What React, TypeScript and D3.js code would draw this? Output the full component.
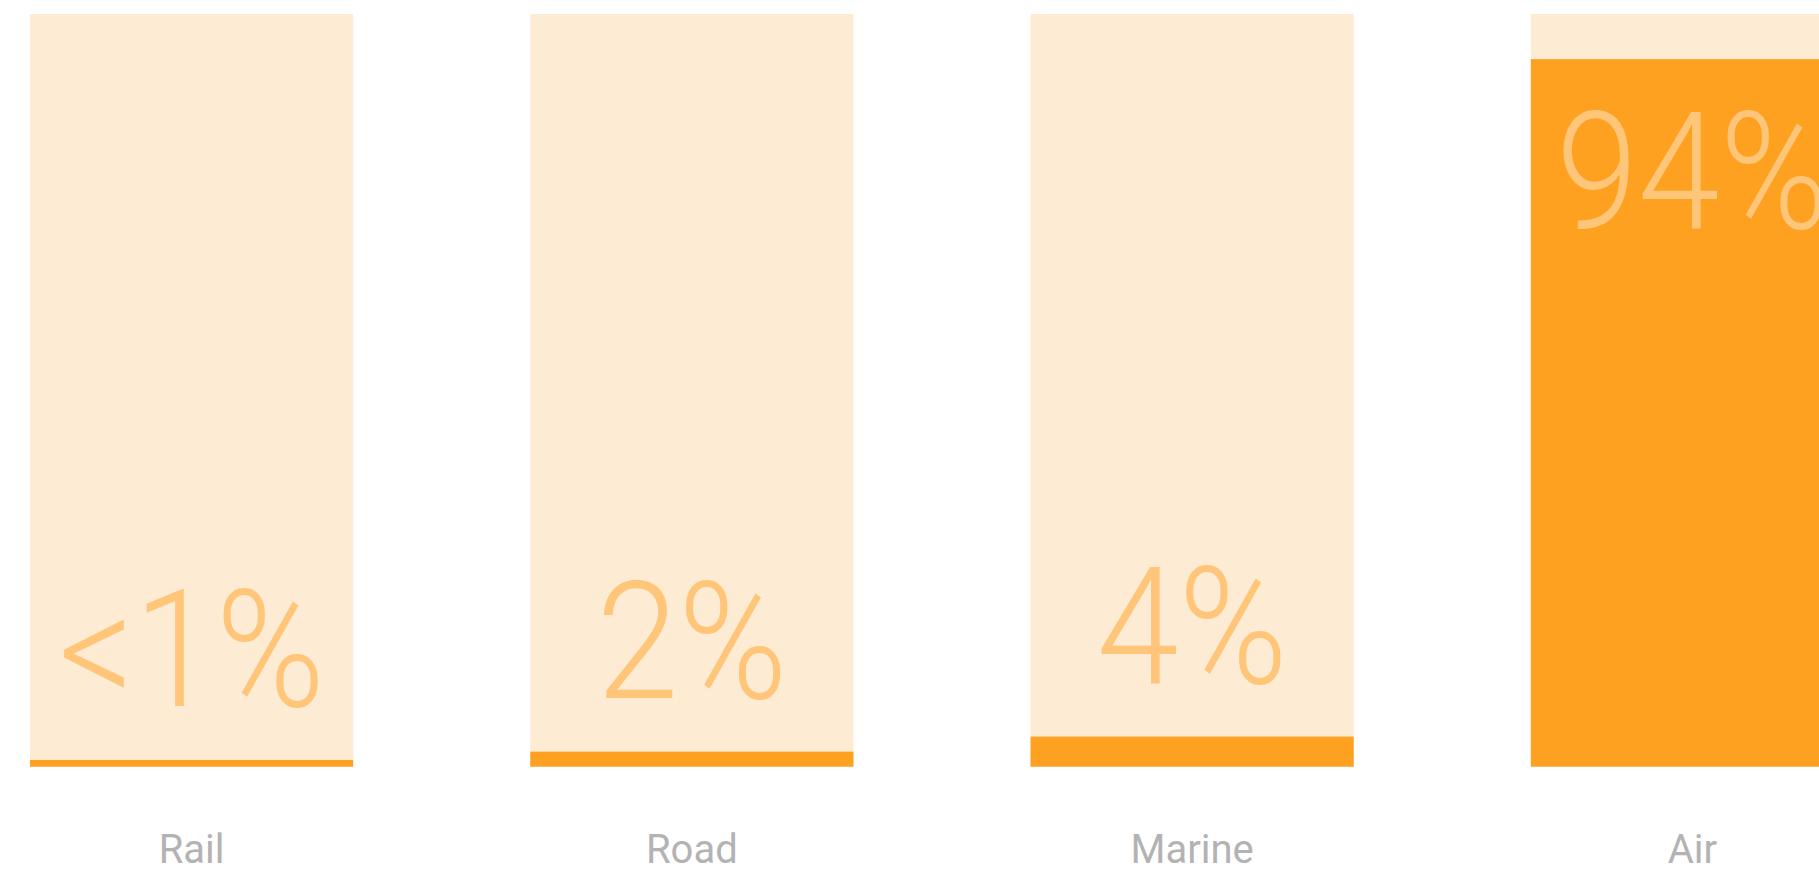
import React from "react";
import * as d3 from "d3";

const categories = ["Rail", "Road", "Marine", "Air"];
const values = [0.9, 2, 4, 94];
const valueLabels = ["<1%", "2%", "4%", "94%"];
const maxValue = 100;

const W = 1819;
const H = 871;

export default function App() {
  const x = d3
    .scaleBand<string>()
    .domain(categories)
    .range([30, 1854])
    .paddingInner(0.354)
    .paddingOuter(0)
    .align(0);
  const y = d3.scaleLinear().domain([0, maxValue]).range([766.7, 14]);
  const bw = x.bandwidth();
  const valueFont = 164;
  const cap = 117;
  const sx = 0.9;

  return (
    <svg
      width={W}
      height={H}
      style={{ position: "fixed", left: 0, top: 0, display: "block", background: "#fff" }}
    >
      {categories.map((c, i) => {
        const x0 = x(c)!;
        const cx = x0 + bw / 2;
        const v = values[i];
        const yTop = y(v);
        const inside = v > 50;
        const ly = inside ? yTop + 52 + cap : yTop - 54;
        return (
          <g key={c}>
            <rect x={x0} y={y(maxValue)} width={bw} height={y(0) - y(maxValue)} fill="#FEEBD3" />
            <rect x={x0} y={yTop} width={bw} height={y(0) - yTop} fill="#FEA020" />
            <text
              transform={`translate(${cx},${ly}) scale(${sx},1)`}
              textAnchor="middle"
              fontFamily="Roboto, 'Noto Sans', sans-serif"
              fontWeight={300}
              fontSize={valueFont}
              fill="#FFC578"
            >
              {valueLabels[i]}
            </text>
            <text
              transform={`translate(${cx},863)`}
              textAnchor="middle"
              fontFamily="Roboto, 'Noto Sans', sans-serif"
              fontWeight={400}
              fontSize={40}
              fill="#B3B3B3"
            >
              {c}
            </text>
          </g>
        );
      })}
    </svg>
  );
}
